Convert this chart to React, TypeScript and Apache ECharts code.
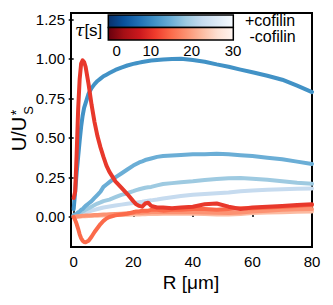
import React, { useEffect, useRef } from "react";
import * as echarts from "echarts";

// radial distance R [µm]
const R = [0, 0.5, 1, 1.5, 2, 2.5, 3, 3.5, 4, 5, 6, 7, 8, 9, 10, 11, 12, 14, 16, 18, 20, 21, 22, 23, 24, 25, 26, 28, 30, 33, 36, 40, 44, 48, 52, 56, 60, 65, 70, 75, 80];

// +cofilin (blue)
const blue1 = [0.05, 0.16, 0.28, 0.38, 0.48, 0.57, 0.64, 0.69, 0.72, 0.78, 0.815, 0.84, 0.86, 0.875, 0.89, 0.9, 0.91, 0.93, 0.945, 0.958, 0.968, 0.972, 0.976, 0.98, 0.983, 0.986, 0.989, 0.993, 0.996, 0.999, 1.0, 0.993, 0.982, 0.965, 0.95, 0.932, 0.915, 0.893, 0.868, 0.83, 0.79];
const blue2 = [0.01, 0.015, 0.02, 0.03, 0.035, 0.045, 0.05, 0.06, 0.07, 0.085, 0.1, 0.12, 0.14, 0.16, 0.19, 0.205, 0.22, 0.25, 0.275, 0.3, 0.325, 0.335, 0.345, 0.352, 0.36, 0.365, 0.37, 0.38, 0.385, 0.388, 0.392, 0.396, 0.397, 0.4, 0.396, 0.39, 0.385, 0.375, 0.365, 0.35, 0.335];
const blue3 = [0.01, 0.012, 0.016, 0.02, 0.025, 0.03, 0.035, 0.04, 0.045, 0.055, 0.065, 0.075, 0.085, 0.092, 0.1, 0.105, 0.11, 0.125, 0.14, 0.15, 0.163, 0.17, 0.175, 0.18, 0.185, 0.188, 0.19, 0.2, 0.208, 0.214, 0.22, 0.226, 0.234, 0.24, 0.245, 0.247, 0.242, 0.235, 0.226, 0.216, 0.21];
const blue4 = [0.01, 0.011, 0.012, 0.014, 0.017, 0.019, 0.022, 0.025, 0.028, 0.034, 0.04, 0.045, 0.05, 0.055, 0.06, 0.063, 0.066, 0.072, 0.078, 0.083, 0.088, 0.09, 0.093, 0.096, 0.1, 0.103, 0.105, 0.11, 0.117, 0.125, 0.132, 0.14, 0.145, 0.15, 0.155, 0.163, 0.168, 0.172, 0.176, 0.178, 0.18];

// -cofilin (red)
const red1 = [0.12, 0.16, 0.4, 0.68, 0.87, 0.97, 0.99, 0.98, 0.95, 0.84, 0.71, 0.6, 0.51, 0.44, 0.38, 0.325, 0.285, 0.225, 0.185, 0.145, 0.1, 0.08, 0.07, 0.065, 0.085, 0.09, 0.07, 0.06, 0.06, 0.055, 0.06, 0.065, 0.08, 0.085, 0.065, 0.05, 0.06, 0.065, 0.07, 0.075, 0.08];
const red2 = [0.0, -0.02, -0.045, -0.075, -0.11, -0.135, -0.15, -0.158, -0.16, -0.15, -0.125, -0.095, -0.07, -0.045, -0.025, -0.01, 0.0, 0.01, 0.015, 0.02, 0.03, 0.035, 0.035, 0.04, 0.04, 0.04, 0.045, 0.045, 0.04, 0.045, 0.045, 0.05, 0.05, 0.045, 0.05, 0.055, 0.055, 0.06, 0.065, 0.07, 0.075];
const red3 = [0.0, 0.002, 0.003, 0.004, 0.005, 0.006, 0.007, 0.008, 0.009, 0.01, 0.011, 0.012, 0.013, 0.014, 0.015, 0.016, 0.017, 0.019, 0.021, 0.023, 0.025, 0.026, 0.027, 0.027, 0.028, 0.028, 0.029, 0.03, 0.03, 0.03, 0.03, 0.03, 0.028, 0.026, 0.025, 0.028, 0.035, 0.04, 0.045, 0.048, 0.05];
const red4 = [0.0, 0.001, 0.002, 0.002, 0.003, 0.003, 0.004, 0.004, 0.005, 0.006, 0.006, 0.007, 0.008, 0.009, 0.01, 0.011, 0.011, 0.012, 0.013, 0.014, 0.015, 0.016, 0.016, 0.017, 0.017, 0.018, 0.018, 0.019, 0.02, 0.02, 0.02, 0.02, 0.018, 0.016, 0.015, 0.018, 0.025, 0.028, 0.03, 0.033, 0.035];

const yTicks = [0, 0.25, 0.5, 0.75, 1.0, 1.25];
const xTicks = [0, 20, 40, 60, 80];
const cbTickLabels = ["0", "10", "20", "30"];
const legendLabels = ["+cofilin", "-cofilin"];

const FONT = "Liberation Sans, Arial, Helvetica, sans-serif";

export default function App() {
  const ref = useRef<HTMLDivElement>(null);
  useEffect(() => {
    if (!ref.current) return;
    const chart = echarts.init(ref.current, null, { renderer: "svg" });
    const mk = (ys: number[], color: string, z: number) => ({
      type: "line",
      data: R.map((r, i) => [r, ys[i]]),
      showSymbol: false,
      symbol: "none",
      smooth: false,
      lineStyle: { color, width: 4, cap: "round", join: "round" },
      z,
    });
    const blues = ["#08306b", "#08519c", "#2171b5", "#4292c6", "#6baed6", "#9ecae1", "#c6dbef", "#deebf7", "#f7fbff"];
    const reds = ["#67000d", "#a50f15", "#cb181d", "#ef3b2c", "#fb6a4a", "#fc9272", "#fcbba1", "#fee0d2", "#fff5f0"];
    const grad = (cols: string[]) => ({
      type: "linear", x: 0, y: 0, x2: 1, y2: 0,
      colorStops: cols.map((c, i) => ({ offset: i / (cols.length - 1), color: c })),
    });
    const cbX = [116.7, 150.8, 191.7, 233];
    chart.setOption({
      animation: false,
      backgroundColor: "#fff",
      grid: { left: 71, right: 21, top: 13, bottom: 58, show: true, borderColor: "#000", borderWidth: 2, backgroundColor: "transparent" },
      xAxis: {
        type: "value", min: -0.9, max: 80,
        axisLine: { show: false },
        splitLine: { show: false },
        axisTick: { show: true, inside: true, length: 7, lineStyle: { color: "#000", width: 1.5 }, customValues: xTicks },
        axisLabel: { color: "#000", fontSize: 15, fontFamily: FONT, margin: 7, customValues: xTicks, formatter: (v: number) => String(v) },
      },
      yAxis: {
        type: "value", min: -0.19, max: 1.29,
        axisLine: { show: false },
        splitLine: { show: false },
        axisTick: { show: true, inside: false, length: 5, lineStyle: { color: "#000", width: 1.5 }, customValues: yTicks },
        axisLabel: { color: "#000", fontSize: 15, fontFamily: FONT, margin: 6, customValues: yTicks, formatter: (v: number) => v.toFixed(2) },
      },
      series: [
        mk(blue4, "#c6dbef", 1),
        mk(blue3, "#9ecae1", 2),
        mk(blue2, "#6baed6", 3),
        mk(blue1, "#4292c6", 4),
        mk(red4, "#fcbba1", 5),
        mk(red3, "#fc9272", 6),
        mk(red2, "#fb6a4a", 7),
        mk(red1, "#e8382b", 8),
      ],
      graphic: [
        { type: "rect", shape: { x: 108.3, y: 15, width: 125, height: 12.5 }, style: { fill: grad(blues), stroke: "#000", lineWidth: 1.5 }, z: 20 },
        { type: "rect", shape: { x: 108.3, y: 27.5, width: 125, height: 12.5 }, style: { fill: grad(reds), stroke: "#000", lineWidth: 1.5 }, z: 20 },
        ...cbTickLabels.map((t, i) => ({
          type: "text", x: cbX[i], y: 50, z: 20,
          style: { text: t, fill: "#000", font: `15px ${FONT}`, textAlign: "center", textVerticalAlign: "middle" },
        })),
        { type: "text", x: 245, y: 20, z: 20, style: { text: legendLabels[0], fill: "#000", font: `16px ${FONT}`, textAlign: "left", textVerticalAlign: "middle" } },
        { type: "text", x: 249.5, y: 36.5, z: 20, style: { text: legendLabels[1], fill: "#000", font: `16px ${FONT}`, textAlign: "left", textVerticalAlign: "middle" } },
        { type: "text", x: 75, y: 30, z: 20, style: { text: "{t|τ}[s]", fill: "#000", font: `17px ${FONT}`, textAlign: "left", textVerticalAlign: "middle", rich: { t: { fontFamily: "DejaVu Serif", fontStyle: "italic", fontSize: 17, fill: "#000" } } } },
        { type: "text", x: 19, y: 134, rotation: Math.PI / 2, z: 20, style: { text: "U/U", fill: "#000", font: `20px ${FONT}`, textAlign: "center", textVerticalAlign: "middle" } },
        { type: "text", x: 15.5, y: 112.5, rotation: Math.PI / 2, z: 20, style: { text: "*", fill: "#000", font: `14px ${FONT}`, textAlign: "center", textVerticalAlign: "middle" } },
        { type: "text", x: 28.5, y: 110.5, rotation: Math.PI / 2, z: 20, style: { text: "S", fill: "#000", font: `13px ${FONT}`, textAlign: "center", textVerticalAlign: "middle" } },
        { type: "text", x: 191, y: 282, z: 20, style: { text: "R [μm]", fill: "#000", font: `19px ${FONT}`, textAlign: "center", textVerticalAlign: "middle" } },
      ],
    });
    return () => chart.dispose();
  }, []);
  return <div ref={ref} style={{ position: "absolute", left: 0, top: 0, width: 333, height: 305, background: "#fff" }} />;
}
